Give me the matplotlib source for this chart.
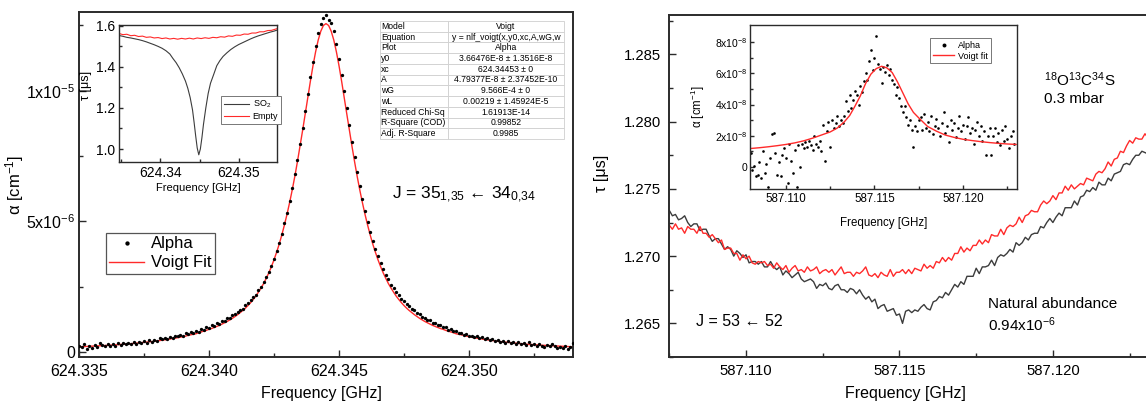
import numpy as np
import matplotlib
matplotlib.use("Agg")
import matplotlib.pyplot as plt

plt.rcParams['font.family'] = ['Liberation Sans', 'DejaVu Sans']
plt.rcParams['mathtext.fontset'] = 'custom'
plt.rcParams['mathtext.rm'] = 'Liberation Sans'
plt.rcParams['mathtext.it'] = 'Liberation Sans:italic'
plt.rcParams['mathtext.bf'] = 'Liberation Sans:bold'

# ---------------- data: left panel (alpha, units of 1e-6 cm^-1) ----------------
alpha_freq_start = 624.3350
alpha_freq_step = 0.0001
alpha_dots = [
    0.25, 0.18, 0.30, 0.12, 0.24, 0.16, 0.28, 0.20, 0.33, 0.27,
    0.22, 0.30, 0.25, 0.31, 0.24, 0.33, 0.27, 0.35, 0.29, 0.36,
    0.30, 0.38, 0.31, 0.40, 0.33, 0.42, 0.36, 0.45, 0.38, 0.47,
    0.41, 0.52, 0.48, 0.55, 0.51, 0.58, 0.55, 0.62, 0.60, 0.66,
    0.63, 0.72, 0.70, 0.76, 0.73, 0.80, 0.78, 0.88, 0.85, 0.95,
    0.92, 1.02, 0.99, 1.10, 1.08, 1.18, 1.17, 1.30, 1.29, 1.42,
    1.45, 1.52, 1.62, 1.66, 1.80, 1.86, 1.98, 2.10, 2.20, 2.36,
    2.50, 2.68, 2.86, 3.08, 3.30, 3.58, 3.86, 4.18, 4.52, 4.92,
    5.32, 5.78, 6.26, 6.80, 7.36, 7.95, 8.58, 9.22, 9.88, 10.52,
    11.12, 11.70, 12.20, 12.55, 12.80,
    12.90,
    12.72, 12.60, 12.30, 11.80, 11.20, 10.60, 9.98, 9.35, 8.70, 8.05,
    7.45, 6.88, 6.35, 5.85, 5.40, 4.98, 4.60, 4.25, 3.95, 3.66,
    3.40, 3.16, 2.96, 2.78, 2.58, 2.44, 2.28, 2.18, 2.04, 1.95,
    1.83, 1.76, 1.66, 1.60, 1.50, 1.45, 1.36, 1.32, 1.24, 1.22,
    1.13, 1.12, 1.02, 1.03, 0.94, 0.95, 0.86, 0.88, 0.79, 0.80,
    0.72, 0.74, 0.66, 0.69, 0.62, 0.63, 0.56, 0.60, 0.53, 0.56,
    0.49, 0.53, 0.46, 0.50, 0.42, 0.47, 0.39, 0.44, 0.36, 0.42,
    0.34, 0.39, 0.31, 0.37, 0.30, 0.35, 0.28, 0.40, 0.26, 0.32,
    0.22, 0.30, 0.25, 0.20, 0.28, 0.24, 0.30, 0.22, 0.17, 0.20,
    0.14, 0.22, 0.12, 0.18, 0.35,
]
alpha_fit = [
    0.20, 0.205, 0.21, 0.215, 0.22, 0.225, 0.23, 0.235, 0.24, 0.245,
    0.25, 0.255, 0.26, 0.27, 0.275, 0.28, 0.29, 0.295, 0.30, 0.31,
    0.32, 0.33, 0.34, 0.35, 0.36, 0.37, 0.38, 0.39, 0.40, 0.41,
    0.43, 0.44, 0.45, 0.47, 0.48, 0.50, 0.52, 0.53, 0.55, 0.57,
    0.59, 0.61, 0.64, 0.66, 0.68, 0.70, 0.74, 0.77, 0.80, 0.83,
    0.87, 0.90, 0.94, 0.98, 1.02, 1.07, 1.12, 1.17, 1.23, 1.29,
    1.36, 1.43, 1.51, 1.59, 1.68, 1.78, 1.89, 2.01, 2.14, 2.29,
    2.45, 2.62, 2.82, 3.03, 3.27, 3.53, 3.82, 4.13, 4.48, 4.86,
    5.27, 5.72, 6.20, 6.72, 7.28, 7.87, 8.48, 9.11, 9.75, 10.37,
    10.96, 11.49, 11.94, 12.28, 12.50,
    12.57,
    12.50, 12.28, 11.94, 11.49, 10.96, 10.37, 9.75, 9.11, 8.48, 7.87,
    7.28, 6.72, 6.20, 5.72, 5.27, 4.86, 4.48, 4.13, 3.82, 3.53,
    3.27, 3.03, 2.82, 2.62, 2.45, 2.29, 2.14, 2.01, 1.89, 1.78,
    1.68, 1.59, 1.51, 1.43, 1.36, 1.29, 1.23, 1.17, 1.12, 1.07,
    1.02, 0.98, 0.94, 0.90, 0.87, 0.83, 0.80, 0.77, 0.74, 0.70,
    0.68, 0.66, 0.64, 0.61, 0.59, 0.57, 0.55, 0.53, 0.52, 0.50,
    0.48, 0.47, 0.45, 0.44, 0.43, 0.41, 0.40, 0.39, 0.38, 0.37,
    0.36, 0.35, 0.34, 0.33, 0.32, 0.31, 0.30, 0.295, 0.29, 0.28,
    0.275, 0.27, 0.26, 0.255, 0.25, 0.245, 0.24, 0.235, 0.23, 0.225,
    0.22, 0.215, 0.21, 0.205, 0.20,
]
ALPHA_UNIT_LEFT = 1e-6

# inset (left): ring-down time tau [us]
so2_freq = [
    624.3347, 624.3352, 624.3357, 624.3362, 624.3367, 624.3372, 624.3377, 624.3382, 624.3387, 624.3392,
    624.3397, 624.3402, 624.3407, 624.3412, 624.3416, 624.3420, 624.3424, 624.3428, 624.3432, 624.3435,
    624.3438, 624.3441, 624.3443, 624.3445, 624.3447, 624.3449, 624.3451, 624.3453, 624.3455, 624.3458,
    624.3461, 624.3464, 624.3468, 624.3472, 624.3476, 624.3480, 624.3485, 624.3490, 624.3495, 624.3500,
    624.3505, 624.3510, 624.3515, 624.3520, 624.3525, 624.3530, 624.3535, 624.3540, 624.3545, 624.3549,
]
so2_tau = [
    1.552, 1.548, 1.543, 1.540, 1.536, 1.532, 1.527, 1.521, 1.514, 1.507,
    1.499, 1.490, 1.478, 1.462, 1.440, 1.420, 1.395, 1.365, 1.330, 1.295,
    1.250, 1.190, 1.130, 1.065, 1.005, 0.972, 1.000, 1.055, 1.120, 1.200,
    1.270, 1.320, 1.362, 1.405, 1.430, 1.450, 1.468, 1.484, 1.497, 1.508,
    1.517, 1.526, 1.535, 1.543, 1.550, 1.556, 1.562, 1.568, 1.573, 1.578,
]
empty_freq = [
    624.3347, 624.3352, 624.3357, 624.3362, 624.3367, 624.3372, 624.3377, 624.3382, 624.3387, 624.3392,
    624.3397, 624.3402, 624.3407, 624.3412, 624.3417, 624.3422, 624.3427, 624.3432, 624.3437, 624.3442,
    624.3447, 624.3452, 624.3457, 624.3462, 624.3467, 624.3472, 624.3477, 624.3482, 624.3487, 624.3492,
    624.3497, 624.3502, 624.3507, 624.3512, 624.3517, 624.3522, 624.3527, 624.3532, 624.3537, 624.3542,
    624.3547, 624.3549,
]
empty_tau = [
    1.562, 1.556, 1.558, 1.551, 1.553, 1.547, 1.549, 1.543, 1.545, 1.540,
    1.542, 1.537, 1.540, 1.535, 1.538, 1.534, 1.538, 1.535, 1.539, 1.535,
    1.540, 1.537, 1.541, 1.538, 1.543, 1.541, 1.546, 1.544, 1.550, 1.548,
    1.554, 1.553, 1.559, 1.558, 1.564, 1.564, 1.570, 1.570, 1.576, 1.577,
    1.583, 1.585,
]

table_labels = ["Model", "Equation", "Plot", "y0", "xc", "A", "wG", "wL",
                "Reduced Chi-Sq", "R-Square (COD)", "Adj. R-Square"]
table_values = ["Voigt", "y = nlf_voigt(x,y0,xc,A,wG,w", "Alpha",
                "3.66476E-8 \u00b1 1.3516E-8", "624.34453 \u00b1 0",
                "4.79377E-8 \u00b1 2.37452E-10", "9.566E-4 \u00b1 0",
                "0.00219 \u00b1 1.45924E-5", "1.61913E-14", "0.99852", "0.9985"]

left_xticks = [624.335, 624.340, 624.345, 624.350]
left_xticklabels = ["624.335", "624.340", "624.345", "624.350"]
left_yticks = [0, 5e-6, 1e-5]
left_yticklabels = ["0", "5x10$^{\\mathregular{-6}}$", "1x10$^{\\mathregular{-5}}$"]
inset1_xticks = [624.34, 624.35]
inset1_xticklabels = ["624.34", "624.35"]
inset1_yticks = [1.0, 1.2, 1.4, 1.6]
inset1_yticklabels = ["1.0", "1.2", "1.4", "1.6"]

# ---------------- data: right panel (tau in us) ----------------
tau_freq_start = 587.1075
tau_freq_step = 0.0001
tau_sample = [
    1.2734, 1.2730, 1.2731, 1.2727, 1.2728, 1.2730, 1.2725, 1.2722, 1.2724, 1.2724,
    1.2719, 1.2720, 1.2720, 1.2715, 1.2711, 1.2713, 1.2713, 1.2709, 1.2705, 1.2707,
    1.2705, 1.2700, 1.2704, 1.2702, 1.2699, 1.2701, 1.2695, 1.2696, 1.2696, 1.2694,
    1.2696, 1.2692, 1.2692, 1.2696, 1.2692, 1.2690, 1.2692, 1.2686, 1.2689, 1.2687,
    1.2684, 1.2686, 1.2688, 1.2683, 1.2681, 1.2682, 1.2683, 1.2681, 1.2676, 1.2679,
    1.2678, 1.2680, 1.2676, 1.2675, 1.2678, 1.2679, 1.2675, 1.2675, 1.2673, 1.2676,
    1.2675, 1.2672, 1.2675, 1.2671, 1.2668, 1.2670, 1.2666, 1.2668, 1.2661, 1.2663,
    1.2664, 1.2659, 1.2660, 1.2661, 1.2656, 1.2657, 1.2650, 1.2659, 1.2660, 1.2658,
    1.2660, 1.2659, 1.2662, 1.2664, 1.2661, 1.2660, 1.2666, 1.2667, 1.2670, 1.2669,
    1.2673, 1.2671, 1.2675, 1.2679, 1.2677, 1.2681, 1.2679, 1.2685, 1.2685, 1.2685,
    1.2691, 1.2687, 1.2692, 1.2692, 1.2693, 1.2697, 1.2693, 1.2699, 1.2701, 1.2700,
    1.2702, 1.2705, 1.2703, 1.2710, 1.2708, 1.2710, 1.2714, 1.2712, 1.2716, 1.2717,
    1.2717, 1.2722, 1.2721, 1.2725, 1.2728, 1.2725, 1.2729, 1.2732, 1.2730, 1.2736,
    1.2736, 1.2736, 1.2741, 1.2738, 1.2744, 1.2745, 1.2749, 1.2748, 1.2751, 1.2749,
    1.2755, 1.2753, 1.2753, 1.2758, 1.2756, 1.2761, 1.2762, 1.2763, 1.2768, 1.2769,
    1.2768, 1.2772, 1.2775, 1.2775, 1.2778, 1.2777, 1.2776, 1.2779,
]
tau_empty = [
    1.2723, 1.2720, 1.2724, 1.2720, 1.2721, 1.2717, 1.2722, 1.2720, 1.2720, 1.2717,
    1.2722, 1.2717, 1.2717, 1.2714, 1.2716, 1.2713, 1.2710, 1.2712, 1.2705, 1.2706,
    1.2706, 1.2702, 1.2702, 1.2697, 1.2701, 1.2698, 1.2700, 1.2695, 1.2694, 1.2696,
    1.2695, 1.2696, 1.2693, 1.2694, 1.2691, 1.2695, 1.2692, 1.2690, 1.2693, 1.2688,
    1.2691, 1.2693, 1.2689, 1.2690, 1.2688, 1.2692, 1.2689, 1.2690, 1.2692, 1.2687,
    1.2689, 1.2690, 1.2688, 1.2690, 1.2686, 1.2689, 1.2692, 1.2687, 1.2688, 1.2688,
    1.2685, 1.2688, 1.2687, 1.2689, 1.2692, 1.2686, 1.2685, 1.2687, 1.2684, 1.2688,
    1.2686, 1.2685, 1.2690, 1.2685, 1.2688, 1.2688, 1.2690, 1.2687, 1.2690, 1.2687,
    1.2691, 1.2690, 1.2689, 1.2694, 1.2691, 1.2693, 1.2691, 1.2696, 1.2695, 1.2699,
    1.2696, 1.2699, 1.2697, 1.2702, 1.2702, 1.2707, 1.2703, 1.2706, 1.2704, 1.2708,
    1.2708, 1.2712, 1.2709, 1.2712, 1.2710, 1.2716, 1.2715, 1.2715, 1.2720, 1.2716,
    1.2721, 1.2723, 1.2722, 1.2724, 1.2729, 1.2725, 1.2730, 1.2731, 1.2734, 1.2733,
    1.2733, 1.2738, 1.2741, 1.2739, 1.2741, 1.2745, 1.2742, 1.2747, 1.2747, 1.2752,
    1.2749, 1.2753, 1.2750, 1.2752, 1.2754, 1.2753, 1.2758, 1.2757, 1.2756, 1.2761,
    1.2763, 1.2762, 1.2765, 1.2770, 1.2767, 1.2772, 1.2773, 1.2778, 1.2777, 1.2782,
    1.2786, 1.2784, 1.2788, 1.2787, 1.2787, 1.2791, 1.2788, 1.2791,
]

# inset (right): alpha in units of 1e-8 cm^-1
inset_alpha_freq_start = 587.1080
inset_alpha_freq_step = 0.0001
inset_alpha_dots = [
    0.9, -0.2, 0.1, -0.6, -0.5, 0.3, -0.7, 1.0, -0.4, 0.2,
    -1.3, 0.6, 2.1, 2.2, 0.9, -0.5, 0.3, -0.6, 0.8, 1.2,
    0.6, -1.0, 1.5, 0.4, -0.4, 1.1, -1.3, 1.4, 0.0, 1.5,
    1.2, 1.6, 1.3, 1.7, 1.4, 1.1, 2.0, 1.5, 1.3, 1.7,
    1.0, 2.7, 0.4, 2.3, 2.9, 1.3, 3.0, 2.5, 2.8, 3.3,
    2.6, 3.0, 2.8, 3.3, 4.2, 3.6, 4.6, 3.8, 4.3, 4.9,
    4.6, 4.0, 5.2, 4.8, 5.5, 6.0, 5.6, 6.8, 7.5, 6.2,
    7.0, 8.4, 6.6, 6.3, 5.4, 6.4, 6.1, 6.5, 5.9, 6.3,
    5.6, 5.3, 4.6, 5.1, 4.4, 3.9, 3.5, 3.9, 3.2, 2.7,
    3.0, 2.4, 1.3, 2.6, 2.3, 3.0, 3.2, 2.4, 3.4, 2.5,
    2.9, 2.3, 3.3, 2.1, 2.6, 3.1, 2.5, 2.0, 2.8, 3.5,
    2.2, 2.6, 1.6, 3.0, 2.4, 2.8, 1.9, 2.5, 3.3, 2.3,
    2.7, 1.8, 2.6, 3.2, 2.2, 2.5, 1.5, 2.4, 2.9, 2.0,
    2.6, 1.7, 2.3, 0.8, 2.0, 2.5, 0.8, 2.0, 2.5, 1.6,
    2.2, 1.4, 2.4, 1.7, 2.6, 1.8, 1.2, 2.0, 2.3, 1.5,
]
inset_fit_freq = [
    587.1080, 587.1085, 587.1090, 587.1095, 587.1100, 587.1105, 587.1110, 587.1115, 587.1120, 587.1125,
    587.1129, 587.1133, 587.1136, 587.1139, 587.1142, 587.1145, 587.1148, 587.1151, 587.1154, 587.1157,
    587.1160, 587.1163, 587.1166, 587.1169, 587.1172, 587.1175, 587.1180, 587.1185, 587.1190, 587.1195,
    587.1200, 587.1205, 587.1210, 587.1215, 587.1220, 587.1225, 587.1230,
]
inset_fit_vals = [
    1.19, 1.24, 1.30, 1.37, 1.45, 1.55, 1.68, 1.85, 2.05, 2.25,
    2.50, 2.90, 3.30, 3.90, 4.55, 5.35, 5.95, 6.30, 6.45, 6.35,
    6.05, 5.45, 4.75, 4.05, 3.50, 3.15, 2.60, 2.30, 2.05, 1.90,
    1.78, 1.70, 1.63, 1.57, 1.52, 1.48, 1.45,
]
ALPHA_UNIT_RIGHT = 1e-8

right_xticks = [587.110, 587.115, 587.120]
right_xticklabels = ["587.110", "587.115", "587.120"]
right_yticks = [1.265, 1.270, 1.275, 1.280, 1.285]
right_yticklabels = ["1.265", "1.270", "1.275", "1.280", "1.285"]
inset2_yticks = [0, 2e-8, 4e-8, 6e-8, 8e-8]
inset2_yticklabels = ["0", "2x10$^{\\mathregular{-8}}$", "4x10$^{\\mathregular{-8}}$",
                      "6x10$^{\\mathregular{-8}}$", "8x10$^{\\mathregular{-8}}$"]

# ---------------- figure ----------------
W, H = 1146, 405
fig = plt.figure(figsize=(W / 100, H / 100), dpi=100)

def px_axes(x0, y0, x1, y1):
    return fig.add_axes([x0 / W, 1 - y1 / H, (x1 - x0) / W, (y1 - y0) / H])

SPINE = '#2b2b2b'
RED = '#ff2a2a'
GRAY = '#3c3c3c'

def style(ax, lw=1.4, major=5, minor=3, size=11, pad=3):
    for s in ax.spines.values():
        s.set_linewidth(lw)
        s.set_color(SPINE)
    ax.tick_params(which='both', direction='in', color=SPINE, width=1.0)
    ax.tick_params(which='major', length=major, labelsize=size, pad=pad)
    ax.tick_params(which='minor', length=minor)

# ----- left main -----
ax1 = px_axes(79, 12, 573, 357)
xa = alpha_freq_start + alpha_freq_step * np.arange(len(alpha_dots))
ax1.plot(xa, np.array(alpha_fit) * ALPHA_UNIT_LEFT, color=RED, lw=1.0, zorder=2, label='Voigt Fit')
ax1.plot(xa, np.array(alpha_dots) * ALPHA_UNIT_LEFT, ls='none', marker='o', ms=2.4,
         color='black', mec='none', zorder=3, label='Alpha')
ax1.set_xlim(624.335, 624.354)
ax1.set_ylim(-1.9e-7, 1.3015e-5)
ax1.set_xticks(left_xticks)
ax1.set_xticklabels(left_xticklabels)
ax1.set_xticks([624.3375, 624.3425, 624.3475, 624.3525], minor=True)
ax1.set_yticks(left_yticks)
ax1.set_yticklabels(left_yticklabels)
ax1.set_yticks([2.5e-6, 7.5e-6, 1.25e-5], minor=True)
style(ax1, size=11.5)
ax1.tick_params(axis='x', pad=5)
ax1.tick_params(axis='y', pad=2.5)
ax1.set_xlabel('Frequency [GHz]', fontsize=11.5)
ax1.xaxis.set_label_coords(0.49, -0.085)
ax1.set_ylabel('\u03b1 [cm$^{\\mathregular{-1}}$]', fontsize=12)
ax1.yaxis.set_label_coords(-0.107, 0.5)
h, l = ax1.get_legend_handles_labels()
leg = ax1.legend([h[1], h[0]], [l[1], l[0]], loc='upper left',
                 bbox_to_anchor=((106 - 79) / 494, (357 - 233) / 345), borderaxespad=0,
                 fontsize=12, fancybox=False, edgecolor='#555555', framealpha=1,
                 handlelength=2.1, handletextpad=0.4, borderpad=0.2, labelspacing=0.25,
                 markerscale=1.3)
leg.get_frame().set_linewidth(0.9)
ax1.text((392 - 79) / 494, (357 - 195) / 345,
         'J = 35$_{\\mathregular{1{,}35}}$ \u2190 34$_{\\mathregular{0{,}34}}$',
         transform=ax1.transAxes, fontsize=12.5, va='center', ha='left')

# ----- left inset -----
axi1 = px_axes(119, 25, 277, 162)
axi1.plot(so2_freq, so2_tau, color=GRAY, lw=0.8, label='SO$_{\\mathregular{2}}$')
axi1.plot(empty_freq, empty_tau, color=RED, lw=0.8, label='Empty')
axi1.set_xlim(624.3347, 624.3549)
axi1.set_ylim(0.937, 1.603)
axi1.set_xticks(inset1_xticks)
axi1.set_xticklabels(inset1_xticklabels)
axi1.set_xticks([624.335, 624.345], minor=True)
axi1.set_yticks(inset1_yticks)
axi1.set_yticklabels(inset1_yticklabels)
axi1.set_yticks([1.1, 1.3, 1.5], minor=True)
style(axi1, lw=1.0, major=3, minor=2, size=10, pad=3)
axi1.set_xlabel('Frequency [GHz]', fontsize=8)
axi1.xaxis.set_label_coords(0.5, -0.15)
axi1.set_ylabel('\u03c4 [\u03bcs]', fontsize=9)
axi1.yaxis.set_label_coords(-0.17, 0.56)
lg1 = axi1.legend(loc='upper left', bbox_to_anchor=((221 - 119) / 158, (162 - 96) / 137),
                  borderaxespad=0, fontsize=6.5, fancybox=False, edgecolor='#777777',
                  framealpha=1, handlelength=2.8, handletextpad=0.4, borderpad=0.3,
                  labelspacing=0.2)
lg1.get_frame().set_linewidth(0.7)

# ----- fit table -----
axt = px_axes(380, 21, 564, 139)
axt.axis('off')
tbl = axt.table(cellText=[[a, b] for a, b in zip(table_labels, table_values)],
                bbox=[0, 0, 1, 1], colWidths=[0.37, 0.63], cellLoc='center')
tbl.auto_set_font_size(False)
tbl.set_fontsize(6.2)
for (r, c), cell in tbl.get_celld().items():
    cell.set_edgecolor('#cfcfcf')
    cell.set_linewidth(0.6)
    if c == 0:
        cell.PAD = 0.02
        cell.get_text().set_ha('left')

# ----- right main -----
ax2 = px_axes(669, 15, 1160, 357)
xt = tau_freq_start + tau_freq_step * np.arange(len(tau_sample))
ax2.plot(xt, tau_sample, color=GRAY, lw=1.0)
ax2.plot(xt, tau_empty, color=RED, lw=1.0)
ax2.set_xlim(587.10749, 587.12349)
ax2.set_ylim(1.26288, 1.28793)
ax2.set_xticks(right_xticks)
ax2.set_xticklabels(right_xticklabels)
ax2.set_xticks([587.1075, 587.1125, 587.1175, 587.1225], minor=True)
ax2.set_yticks(right_yticks)
ax2.set_yticklabels(right_yticklabels)
ax2.set_yticks([1.2625, 1.2675, 1.2725, 1.2775, 1.2825, 1.2875], minor=True)
style(ax2, size=10.7)
ax2.tick_params(axis='x', pad=5)
ax2.tick_params(axis='y', pad=5.5)
ax2.set_xlabel('Frequency [GHz]', fontsize=11.5)
ax2.xaxis.set_label_coords((905 - 669) / 491, -0.086)
ax2.set_ylabel('\u03c4 [\u03bcs]', fontsize=11.5)
ax2.yaxis.set_label_coords((609 - 669) / 491, (357 - 173) / 342)

fig.text(1044 / W, 1 - 80 / H,
         '$^{\\mathregular{18}}$O$^{\\mathregular{13}}$C$^{\\mathregular{34}}$S',
         fontsize=11, va='center', ha='left')
fig.text(1044 / W, 1 - 99 / H, '0.3 mbar', fontsize=11, va='center', ha='left')
fig.text(988 / W, 1 - 304 / H, 'Natural abundance', fontsize=11, va='center', ha='left')
fig.text(988 / W, 1 - 325 / H, '0.94x10$^{\\mathregular{-6}}$', fontsize=11,
         va='center', ha='left')
fig.text(696 / W, 1 - 321 / H, 'J = 53 \u2190 52', fontsize=11.5, va='center', ha='left')

# ----- right inset -----
axi2 = px_axes(750, 25, 1017, 189)
xi = inset_alpha_freq_start + inset_alpha_freq_step * np.arange(len(inset_alpha_dots))
axi2.plot(xi, np.array(inset_alpha_dots) * ALPHA_UNIT_RIGHT, ls='none', marker='o', ms=1.9,
          color='black', mec='none', label='Alpha')
axi2.plot(inset_fit_freq, np.array(inset_fit_vals) * ALPHA_UNIT_RIGHT, color=RED, lw=1.0,
          label='Voigt fit')
axi2.set_xlim(587.10797, 587.12305)
axi2.set_ylim(-1.4e-8, 9.09e-8)
axi2.set_xticks(right_xticks)
axi2.set_xticklabels(right_xticklabels)
axi2.set_xticks([587.1125, 587.1175, 587.1225], minor=True)
axi2.set_yticks(inset2_yticks)
axi2.set_yticklabels(inset2_yticklabels)
axi2.set_yticks([1e-8, 3e-8, 5e-8, 7e-8], minor=True)
style(axi2, lw=1.0, major=3, minor=2, size=8.3, pad=3)
axi2.tick_params(axis='y', labelsize=7.5, pad=2)
axi2.set_xlabel('Frequency [GHz]', fontsize=8.3)
axi2.xaxis.set_label_coords(0.5, -0.17)
axi2.set_ylabel('\u03b1 [cm$^{\\mathregular{-1}}$]', fontsize=8.3)
axi2.yaxis.set_label_coords(-0.16, 0.5)
lg2 = axi2.legend(loc='upper left', bbox_to_anchor=((930 - 750) / 267, (189 - 38) / 164),
                  borderaxespad=0, fontsize=6.5, fancybox=False, edgecolor='#777777',
                  framealpha=1, handlelength=2.4, handletextpad=0.4, borderpad=0.3,
                  labelspacing=0.2, markerscale=1.5)
lg2.get_frame().set_linewidth(0.7)

fig.savefig('out.png', dpi=100)
